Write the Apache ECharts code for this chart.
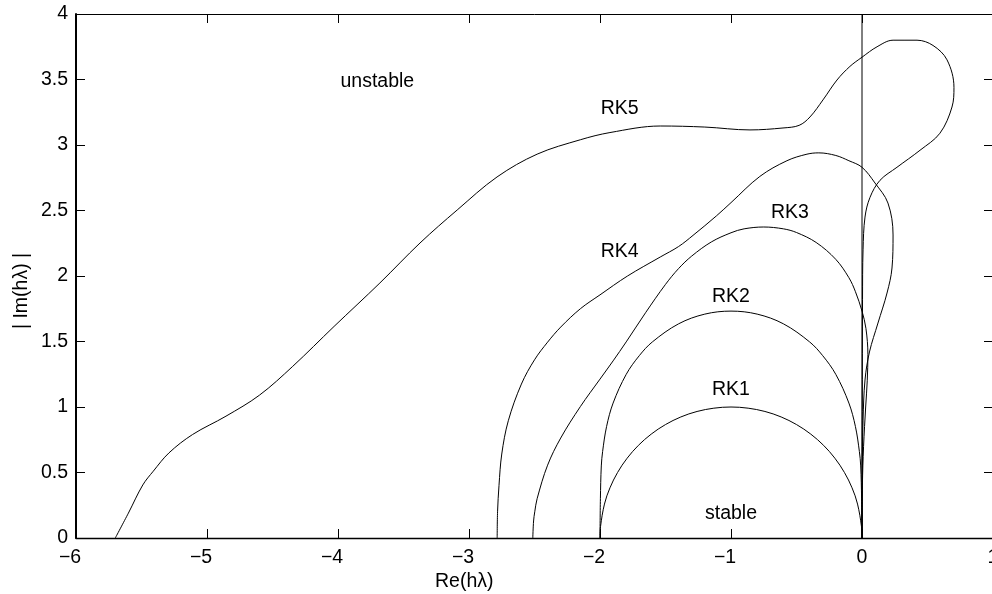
<!DOCTYPE html>
<html>
<head>
<meta charset="utf-8">
<script src="https://cdn.jsdelivr.net/npm/echarts@6/dist/echarts.min.js"></script>
<style>
html,body{margin:0;padding:0;background:#fff;}
#chart{width:992px;height:594px;}
</style>
</head>
<body>
<div id="chart"></div>
<script>
// ---- data ----
var xTicks = [-6, -5, -4, -3, -2, -1, 0, 1];
var yTicks = [0, 0.5, 1, 1.5, 2, 2.5, 3, 3.5, 4];

var rk1 = [[0,0],[-0.004,0.087],[-0.034,0.259],[-0.076,0.383],[-0.134,0.5],[-0.207,0.609],[-0.293,0.707],[-0.391,0.793],[-0.5,0.866],[-0.617,0.924],[-0.741,0.966],[-0.869,0.991],[-1,1],[-1.131,0.991],[-1.259,0.966],[-1.383,0.924],[-1.5,0.866],[-1.609,0.793],[-1.707,0.707],[-1.793,0.609],[-1.866,0.5],[-1.924,0.383],[-1.966,0.259],[-1.996,0.087],[-2,0]];

var rk2 = [[0,0],[-0.003,0.3],[-0.01,0.55],[-0.02,0.66],[-0.05,0.85],[-0.1,1.03],[-0.2,1.249],[-0.3,1.392],[-0.4,1.497],[-0.6,1.635],[-0.8,1.709],[-1,1.732],[-1.2,1.709],[-1.4,1.635],[-1.6,1.497],[-1.7,1.392],[-1.8,1.249],[-1.9,1.03],[-1.95,0.85],[-1.98,0.66],[-1.99,0.55],[-1.997,0.3],[-2,0]];

var rk3 = [[-2.513,0],[-2.507,0.13],[-2.498,0.2],[-2.48,0.3],[-2.4,0.556],[-2.3,0.763],[-2.15,1.003],[-2.0,1.213],[-1.9,1.352],[-1.8,1.497],[-1.65,1.723],[-1.5,1.936],[-1.4,2.057],[-1.3,2.152],[-1.15,2.26],[-1.0,2.33],[-0.9,2.36],[-0.75,2.374],[-0.6,2.36],[-0.5,2.332],[-0.35,2.256],[-0.2,2.127],[-0.1,1.987],[-0.05,1.88],[0,1.732],[0.03,1.6],[0.045,1.4],[0.04,1.2],[0.028,1.0],[0.012,0.7],[0.003,0.4],[0,0]];

var rk4 = [[-2.785,0],[-2.782,0.2],[-2.771,0.4],[-2.75,0.641],[-2.7,0.895],[-2.6,1.175],[-2.5,1.36],[-2.4,1.495],[-2.3,1.61],[-2.15,1.75],[-2.0,1.856],[-1.79,2.0],[-1.54,2.145],[-1.4,2.225],[-1.29,2.31],[-1.11,2.46],[-1.0,2.56],[-0.78,2.76],[-0.573,2.88],[-0.42,2.93],[-0.33,2.94],[-0.2,2.92],[-0.1,2.88],[0,2.83],[0.099,2.71],[0.198,2.557],[0.237,2.313],[0.229,2.061],[0.191,1.87],[0.122,1.641],[0.057,1.42],[0.023,1.206],[0.008,0.9],[0.002,0.52],[0,0]];

var rk5 = [[-5.70,0],[-5.60,0.19],[-5.49,0.405],[-5.41,0.51],[-5.29,0.65],[-5.11,0.79],[-4.855,0.93],[-4.6,1.09],[-4.346,1.31],[-4.03,1.615],[-3.68,1.947],[-3.374,2.252],[-3.09,2.504],[-2.786,2.756],[-2.48,2.93],[-2.15,3.04],[-1.924,3.095],[-1.54,3.145],[-1.2,3.137],[-0.855,3.115],[-0.603,3.13],[-0.48,3.15],[-0.397,3.214],[-0.298,3.344],[-0.191,3.496],[-0.092,3.6],[0,3.67],[0.115,3.75],[0.237,3.80],[0.42,3.80],[0.542,3.76],[0.649,3.65],[0.702,3.44],[0.687,3.29],[0.595,3.09],[0.443,2.96],[0.267,2.83],[0.137,2.73],[0.061,2.6],[0.023,2.45],[0.008,2.2],[0.004,1.82],[0.002,1.0],[0,0]];

var imagAxisLine = [[0,0],[0,4]];

var labelNames = ['unstable','RK5','RK4','RK3','RK2','RK1','stable'];
var labelX = [-3.7, -1.85, -1.85, -0.55, -1.0, -1.0, -1.0];
var labelY = [3.485, 3.28, 2.185, 2.485, 1.84, 1.13, 0.185];

var xTitle = 'Re(h\u03bb)';
var yTitle = '| Im(h\u03bb) |';

// ---- chart ----
var FONT = '"Liberation Sans", Arial, Helvetica, sans-serif';
var FS = 19.5;
var chart = echarts.init(document.getElementById('chart'), null, {renderer:'canvas'});

function curve(d){
  return {type:'line', data:d, showSymbol:false, smooth:0.35, silent:true,
    lineStyle:{color:'#000', width:1}, xAxisIndex:0, yAxisIndex:0, z:3};
}

var labelData = labelNames.map(function(n,i){ return {name:n, value:[labelX[i], labelY[i]]}; });

function axisCommon(w){
  return {
    type:'value', splitLine:{show:false},
    axisLine:{show:true, onZero:false, lineStyle:{color:'#000', width:w}},
    axisTick:{show:true, inside:true, length:9, lineStyle:{color:'#000', width:1}}
  };
}

chart.setOption({
  animation:false,
  backgroundColor:'#fff',
  grid:{left:76, right:-1, top:14, bottom:56, containLabel:false, outerBoundsMode:'none'},
  xAxis:[
    Object.assign(axisCommon(1.3), {position:'bottom', min:xTicks[0], max:xTicks[xTicks.length-1], interval:1,
      axisLabel:{show:true, margin:10, color:'#000', fontFamily:FONT, fontSize:FS, hideOverlap:false,
        formatter:function(v){ return v<0 ? '{n|\u2212'+(-v)+'}' : '{p|'+v+'}'; },
        rich:{n:{fontFamily:FONT, fontSize:FS, color:'#000', padding:[0,12,0,0]}, p:{fontFamily:FONT, fontSize:FS, color:'#000'}}}}),
    Object.assign(axisCommon(1), {position:'top', min:xTicks[0], max:xTicks[xTicks.length-1], interval:1,
      axisLabel:{show:false}})
  ],
  yAxis:[
    Object.assign(axisCommon(2), {position:'left', min:yTicks[0], max:yTicks[yTicks.length-1], interval:0.5,
      axisLabel:{show:true, margin:8, color:'#000', fontFamily:FONT, fontSize:FS}}),
    Object.assign(axisCommon(1), {position:'right', min:yTicks[0], max:yTicks[yTicks.length-1], interval:0.5,
      axisLabel:{show:false}})
  ],
  series:[
    curve(rk1), curve(rk2), curve(rk3), curve(rk4), curve(rk5),
    {type:'line', data:imagAxisLine, showSymbol:false, silent:true, lineStyle:{color:'#000', width:1}, z:3},
    {type:'scatter', data:labelData, symbolSize:0, silent:true, z:4, itemStyle:{opacity:1},
      label:{show:true, position:'inside', formatter:'{b}', color:'#000', opacity:1, textBorderWidth:0, fontFamily:FONT, fontSize:FS}}
  ],
  graphic:[
    {type:'text', left:467-32, top:572, style:{text:xTitle, fill:'#000', font:FS+'px '+FONT}},
    {type:'text', x:22, y:291, rotation:Math.PI/2, style:{text:yTitle, fill:'#000', font:FS+'px '+FONT, align:'center', verticalAlign:'middle'}}
  ]
});
</script>
</body>
</html>
